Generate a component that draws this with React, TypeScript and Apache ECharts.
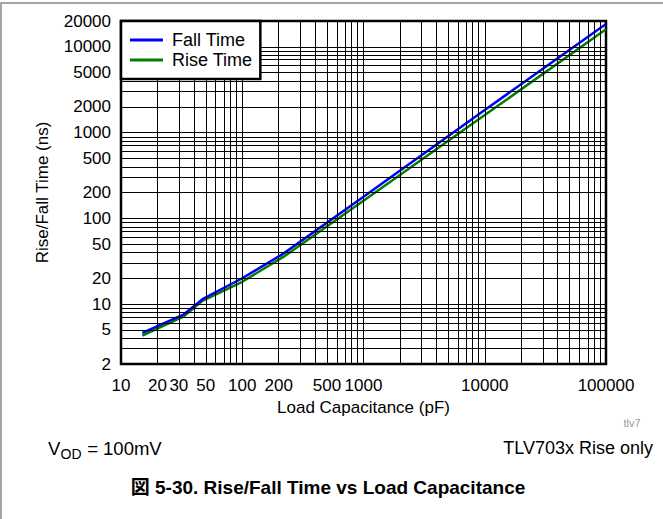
import React, { useEffect, useRef } from "react";
import * as echarts from "echarts";

const xTicks = [10, 20, 30, 50, 100, 200, 500, 1000, 10000, 100000];
const yTicks = [2, 5, 10, 20, 50, 100, 200, 500, 1000, 2000, 5000, 10000, 20000];
const gridMultipliers = [1, 2, 3, 4, 5, 6, 7, 8, 9];
const xDecades = [10, 100, 1000, 10000, 100000];
const yDecades = [1, 10, 100, 1000, 10000];

const capacitance = [15, 33, 47, 100, 220, 1000, 10000, 100000];
const fallTime = [4.6, 7.6, 11.4, 20, 39, 178, 1830, 18500];
const riseTime = [4.3, 7.2, 10.9, 18.2, 35.7, 160, 1600, 16000];

const FONT = '"Liberation Sans", Arial, Helvetica, sans-serif';
const lg = (v: number) => Math.log10(v);

export default function App() {
  const ref = useRef<HTMLDivElement>(null);
  useEffect(() => {
    if (!ref.current) return;
    const chart = echarts.init(ref.current, undefined, { renderer: "svg" });
    const xGrid: number[] = [];
    xDecades.forEach((d) => gridMultipliers.forEach((m) => { const v = d * m; if (v >= 10 && v <= 100000) xGrid.push(v); }));
    const yGrid: number[] = [];
    yDecades.forEach((d) => gridMultipliers.forEach((m) => { const v = d * m; if (v >= 2 && v <= 20000) yGrid.push(v); }));
    const fmt = (v: number) => String(Math.round(Math.pow(10, v)));
    chart.setOption({
      animation: false,
      backgroundColor: "#fff",
      textStyle: { fontFamily: FONT },
      grid: { left: 121, right: 57, top: 21, bottom: 155, show: true, borderColor: "#000", borderWidth: 2.5, backgroundColor: "transparent" },
      legend: {
        data: ["Fall Time", "Rise Time"],
        orient: "vertical",
        left: 121,
        top: 21,
        padding: [10, 8, 10, 9],
        itemGap: 2,
        itemWidth: 33,
        itemHeight: 3,
        icon: "rect",
        borderColor: "#000",
        borderWidth: 2.5,
        borderRadius: 0,
        backgroundColor: "#fff",
        textStyle: { fontSize: 18, color: "#000", fontFamily: FONT, padding: [0, 0, 0, 4] },
        z: 10,
      },
      xAxis: {
        type: "value",
        min: 1,
        max: 5,
        name: "Load Capacitance (pF)",
        nameLocation: "middle",
        nameGap: 31,
        nameTextStyle: { fontSize: 17, color: "#000", fontFamily: FONT },
        axisLine: { show: false },
        axisTick: { show: false },
        splitLine: { show: false },
        axisLabel: { customValues: xTicks.map(lg), formatter: fmt, fontSize: 17, color: "#000", margin: 13, fontFamily: FONT },
      },
      yAxis: {
        type: "value",
        min: lg(2),
        max: lg(20000),
        name: "Rise/Fall Time (ns)",
        nameLocation: "middle",
        nameGap: 70,
        nameTextStyle: { fontSize: 17, color: "#000", fontFamily: FONT },
        axisLine: { show: false },
        axisTick: { show: false },
        splitLine: { show: false },
        axisLabel: { customValues: yTicks.map(lg), formatter: fmt, fontSize: 17, color: "#000", margin: 10, fontFamily: FONT },
      },
      series: [
        {
          name: "grid",
          type: "line",
          data: [],
          silent: true,
          z: 1,
          markLine: {
            silent: true,
            symbol: ["none", "none"],
            label: { show: false },
            lineStyle: { color: "#000", width: 1, type: "solid" },
            emphasis: { disabled: true },
            data: [
              ...xGrid.map((v) => ({ xAxis: lg(v) })),
              ...yGrid.map((v) => ({ yAxis: lg(v) })),
            ],
          },
        },
        {
          name: "Rise Time",
          type: "line",
          data: capacitance.map((c, i) => [lg(c), lg(riseTime[i])]),
          showSymbol: false,
          symbol: "none",
          color: "#008000",
          lineStyle: { color: "#008000", width: 2.5 },
          z: 3,
        },
        {
          name: "Fall Time",
          type: "line",
          data: capacitance.map((c, i) => [lg(c), lg(fallTime[i])]),
          showSymbol: false,
          symbol: "none",
          color: "#0000ff",
          lineStyle: { color: "#0000ff", width: 2.5 },
          z: 4,
        },
      ],
      graphic: [
        { type: "polyline", shape: { points: [[1, 519], [1, 3], [663, 3]] }, style: { stroke: "#888", lineWidth: 1.5, fill: "none" }, silent: true },
        { type: "text", x: 632, y: 423, style: { text: "tlv7", fontSize: 11, fill: "#999", fontFamily: FONT, align: "center", verticalAlign: "middle" } },
        { type: "text", x: 48, y: 448, style: { text: "V", fontSize: 18.5, fill: "#000", fontFamily: FONT, align: "left", verticalAlign: "middle" } },
        { type: "text", x: 60.5, y: 454, style: { text: "OD", fontSize: 14, fill: "#000", fontFamily: FONT, align: "left", verticalAlign: "middle" } },
        { type: "text", x: 82, y: 448, style: { text: " = 100mV", fontSize: 18.5, fill: "#000", fontFamily: FONT, align: "left", verticalAlign: "middle" } },
        { type: "text", x: 653, y: 448, style: { text: "TLV703x Rise only", fontSize: 18, fill: "#000", fontFamily: FONT, align: "right", verticalAlign: "middle" } },
        { type: "text", x: 328, y: 487, style: { text: "図 5-30. Rise/Fall Time vs Load Capacitance", fontSize: 19, fontWeight: "bold", fill: "#000", fontFamily: FONT + ', "Noto Sans CJK JP"', align: "center", verticalAlign: "middle" } },
      ],
    });
    return () => chart.dispose();
  }, []);
  return <div ref={ref} style={{ position: "absolute", left: 0, top: 0, width: 663, height: 519 }} />;
}
